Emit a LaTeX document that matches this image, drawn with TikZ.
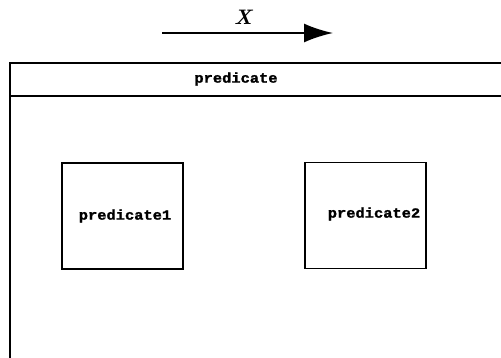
\documentclass[tikz,border=0pt]{standalone}
\usepackage{fontspec}
\newfontfamily\predfont[FakeStretch=1.1, FakeBold=1.5]{Liberation Mono Bold}
\usetikzlibrary{arrows.meta, positioning}
\tikzset{
  pbox/.style={draw, line width=1.8pt, minimum width=121pt, minimum height=106pt,
               inner sep=0pt},
  ptext/.style={font=\predfont\fontsize{14pt}{14pt}\selectfont, inner sep=0pt},
  prule/.style={line width=1.8pt},
}
\begin{document}
\begin{tikzpicture}[x=1pt, y=-1pt]
    \useasboundingbox (0,0) rectangle (501,358);
    % direction arrow
    \coordinate (a0) at (162,33);
    \coordinate (a1) at (333,33);
    \draw[line width=2pt, -{Latex[length=29pt, width=19pt]}] (a0) -- (a1);
    \node[font=\fontsize{21pt}{21pt}\selectfont\bfseries\itshape, inner sep=0pt] (X) at (243,17.5) {X};
    % outer frame with header
    \coordinate (tl) at (10,63);
    \coordinate (tr) at (501,63);
    \coordinate (hl) at (10,96);
    \coordinate (hr) at (501,96);
    \coordinate (bl) at (10,358);
    \draw[prule] (tr) -- (tl) -- (bl);
    \draw[prule] (hl) -- (hr);
    \node[ptext] (head) at (236,79) {predicate};
    % sub predicates
    \node[pbox] (p1) at (122.5,216) {};
    \node[pbox] (p2) at (365.5,215.5) {};
    \node[ptext] (t1) at (125,216) {predicate1};
    \node[ptext] (t2) at (374,214) {predicate2};
\end{tikzpicture}
\end{document}
